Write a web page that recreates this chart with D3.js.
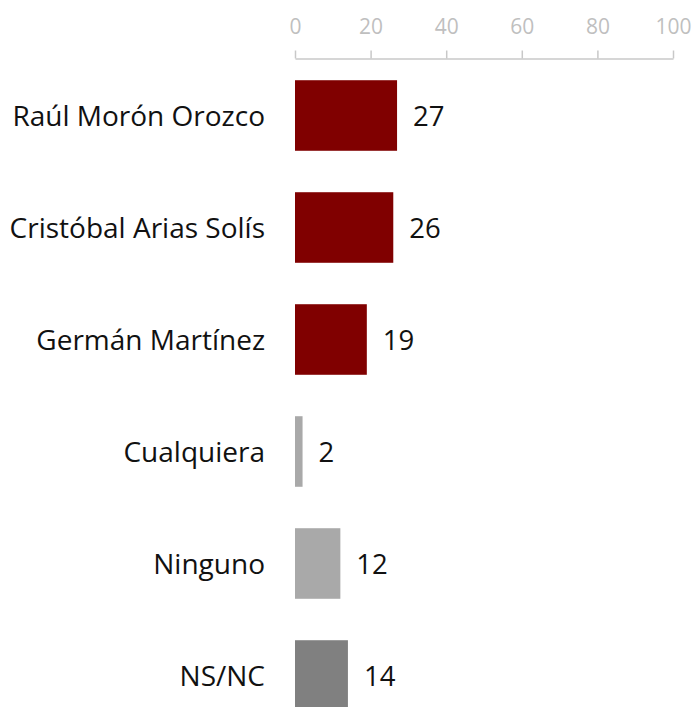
<!DOCTYPE html>
<html>
<head>
<meta charset="utf-8">
<script src="https://cdn.jsdelivr.net/npm/d3@7"></script>
<style>
  html, body { margin: 0; padding: 0; background: #fff; }
  svg { display: block; }
  text { font-family: "Open Sans", "Noto Sans", sans-serif; }
</style>
</head>
<body>
<script>
const categories = ["Raúl Morón Orozco", "Cristóbal Arias Solís", "Germán Martínez", "Cualquiera", "Ninguno", "NS/NC"];
const values = [27, 26, 19, 2, 12, 14];
const colors = ["#800000", "#800000", "#800000", "#a9a9a9", "#a9a9a9", "#808080"];
const tickValues = [0, 20, 40, 60, 80, 100];

const W = 694, H = 707;
const svg = d3.select("body").append("svg").attr("width", W).attr("height", H);

const x = d3.scaleLinear().domain([0, 100]).range([295, 673]);
const y = d3.scaleBand().domain(categories).range([59.5, 731.5]).paddingInner(0.37).paddingOuter(0.185);

// axis
const axis = d3.axisTop(x).tickValues(tickValues).tickSize(8).tickPadding(17).tickSizeOuter(0);
const ag = svg.append("g").attr("transform", "translate(0,58.5)").call(axis);
ag.select(".domain").attr("stroke", "#c8c8c8").attr("stroke-width", 1.5);
ag.selectAll(".tick line").attr("stroke", "#c8c8c8").attr("stroke-width", 1.5);
ag.selectAll(".tick text").attr("fill", "#bfbfbf").attr("font-size", 21)
  .attr("font-family", "'Open Sans', sans-serif");

const rows = categories.map((c, i) => ({ c, v: values[i], col: colors[i] }));

svg.selectAll("rect.bar").data(rows).enter().append("rect")
  .attr("class", "bar")
  .attr("x", x(0))
  .attr("y", d => y(d.c))
  .attr("width", d => x(d.v) - x(0))
  .attr("height", y.bandwidth())
  .attr("fill", d => d.col);

svg.selectAll("text.cat").data(rows).enter().append("text")
  .attr("class", "cat")
  .attr("x", 265)
  .attr("y", d => y(d.c) + y.bandwidth() / 2)
  .attr("dy", "0.37em")
  .attr("text-anchor", "end")
  .attr("font-size", 28)
  .attr("fill", "#111")
  .text(d => d.c);

svg.selectAll("text.val").data(rows).enter().append("text")
  .attr("class", "val")
  .attr("x", d => x(d.v) + 16)
  .attr("y", d => y(d.c) + y.bandwidth() / 2)
  .attr("dy", "0.37em")
  .attr("text-anchor", "start")
  .attr("font-size", 27.5)
  .attr("fill", "#111")
  .text(d => d.v);
</script>
</body>
</html>
